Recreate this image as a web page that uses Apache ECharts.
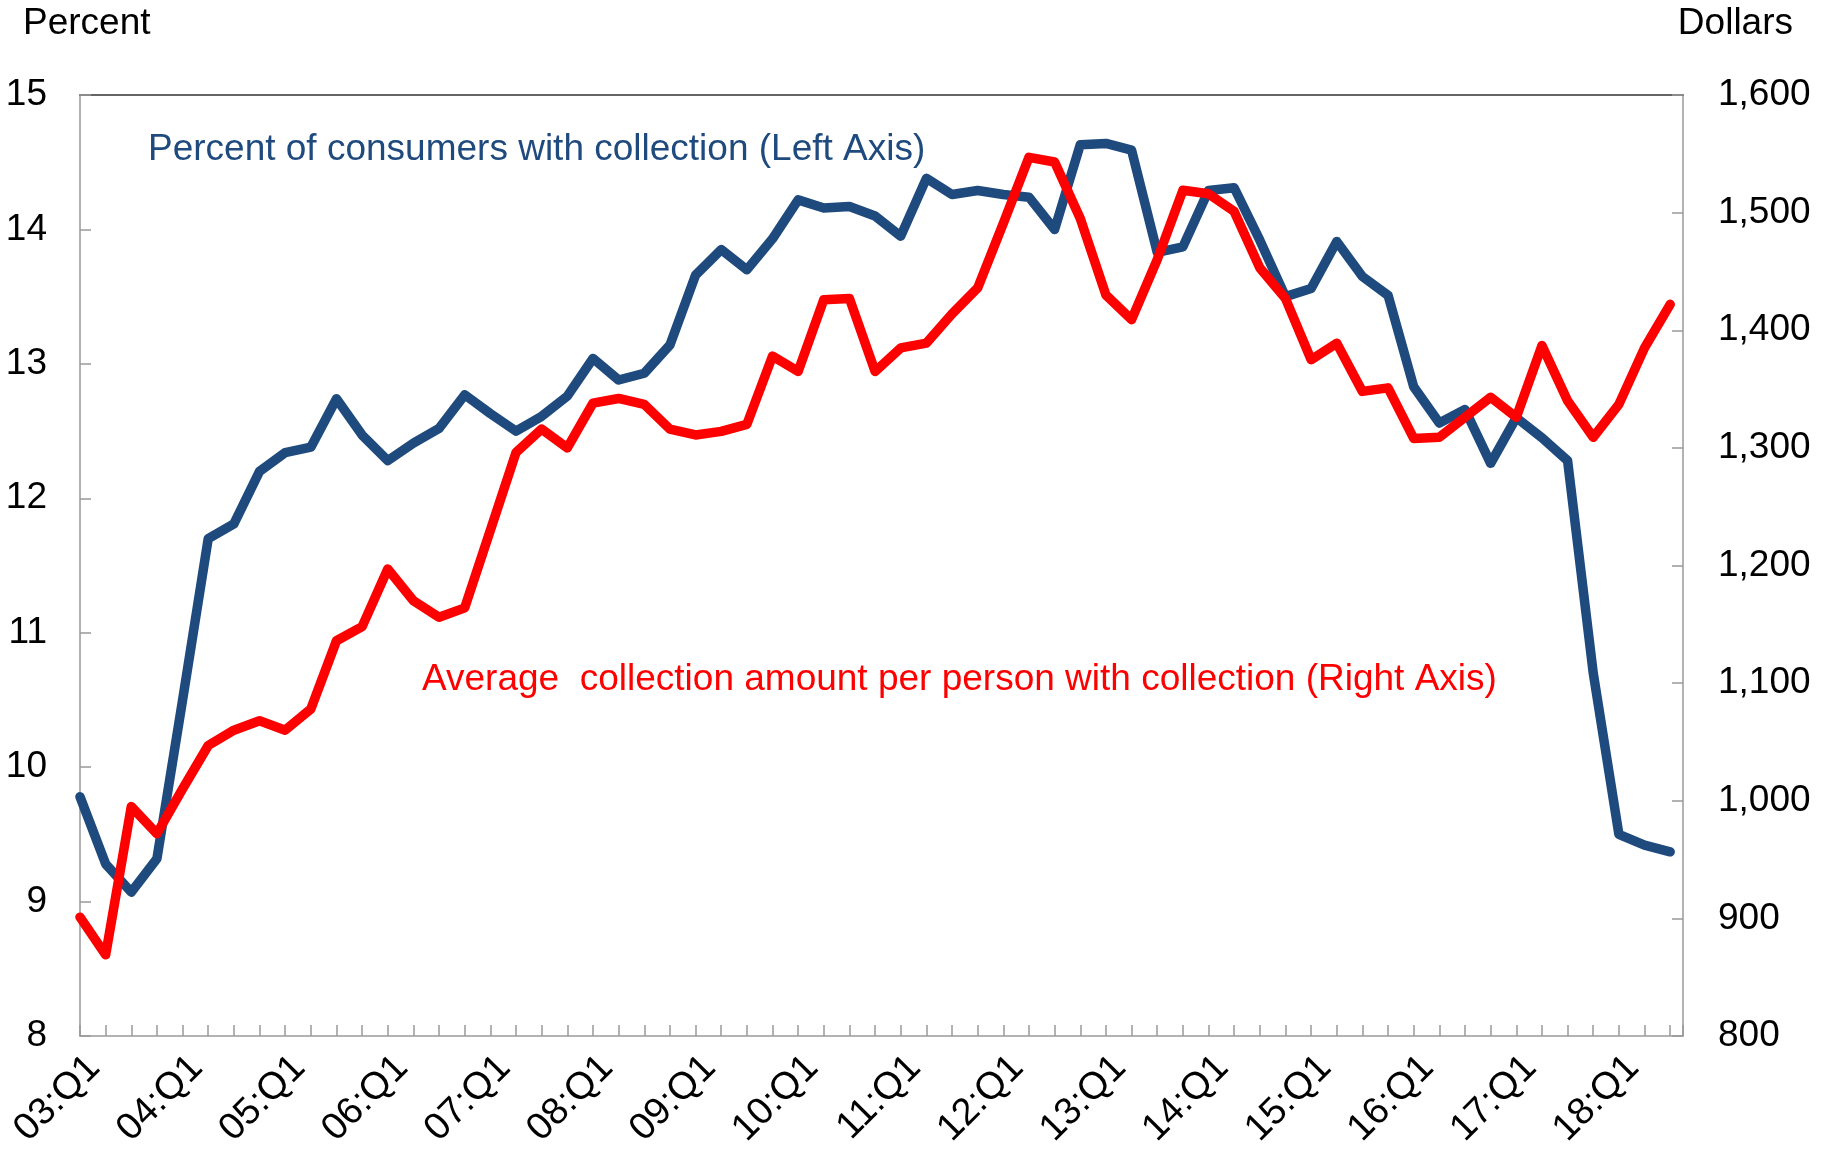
<!DOCTYPE html>
<html>
<head>
<meta charset="utf-8">
<script src="https://cdn.jsdelivr.net/npm/echarts@6/dist/echarts.min.js"></script>
<style>
  html, body { margin: 0; padding: 0; background: #fff; }
  #main { width: 1825px; height: 1158px; }
</style>
</head>
<body>
<div id="main"></div>
<script>
// quarters 03:Q1 .. 18:Q3
var quarters = [
  '03:Q1','03:Q2','03:Q3','03:Q4','04:Q1','04:Q2','04:Q3','04:Q4',
  '05:Q1','05:Q2','05:Q3','05:Q4','06:Q1','06:Q2','06:Q3','06:Q4',
  '07:Q1','07:Q2','07:Q3','07:Q4','08:Q1','08:Q2','08:Q3','08:Q4',
  '09:Q1','09:Q2','09:Q3','09:Q4','10:Q1','10:Q2','10:Q3','10:Q4',
  '11:Q1','11:Q2','11:Q3','11:Q4','12:Q1','12:Q2','12:Q3','12:Q4',
  '13:Q1','13:Q2','13:Q3','13:Q4','14:Q1','14:Q2','14:Q3','14:Q4',
  '15:Q1','15:Q2','15:Q3','15:Q4','16:Q1','16:Q2','16:Q3','16:Q4',
  '17:Q1','17:Q2','17:Q3','17:Q4','18:Q1','18:Q2','18:Q3'
];

// percent of consumers with collection (left axis)
var pctWithCollection = [
  9.78, 9.28, 9.07, 9.32, 10.5, 11.70, 11.81, 12.20,
  12.34, 12.38, 12.74, 12.47, 12.28, 12.41, 12.52, 12.77,
  12.63, 12.50, 12.61, 12.76, 13.04, 12.88, 12.93, 13.14,
  13.66, 13.85, 13.70, 13.93, 14.22, 14.16, 14.17, 14.10,
  13.95, 14.38, 14.26, 14.29, 14.26, 14.24, 14.00, 14.63,
  14.64, 14.59, 13.83, 13.87, 14.29, 14.31, 13.92, 13.50,
  13.56, 13.91, 13.65, 13.51, 12.83, 12.56, 12.66, 12.26,
  12.60, 12.45, 12.28, 10.70, 9.50, 9.42, 9.37
];

// average collection amount, dollars (right axis)
var avgAmount = [
  901, 869, 995, 972, 1010, 1047, 1060, 1068,
  1060, 1078, 1136, 1148, 1197, 1170, 1156, 1164,
  1230, 1296, 1316, 1300, 1338, 1342, 1337, 1316,
  1311, 1314, 1320, 1378, 1365, 1426, 1427, 1365,
  1385, 1389, 1414, 1436, 1491, 1547, 1543, 1495,
  1430, 1409, 1460, 1519, 1516, 1501, 1453, 1427,
  1375, 1389, 1348, 1351, 1308, 1309, 1326, 1343,
  1326, 1387, 1340, 1309, 1337, 1385, 1422
];

var FONT = '"Liberation Sans", Arial, sans-serif';
var BLUE = '#1F4A7E';
var RED = '#FF0000';

function pairs(arr) {
  return arr.map(function (v, i) { return [i, v]; });
}

var myChart = echarts.init(document.getElementById('main'));

var option = {
  backgroundColor: '#fff',
  animation: false,
  textStyle: { fontFamily: FONT },
  grid: { left: 80, right: 142, top: 95, bottom: 122, containLabel: false, outerBoundsMode: 'none' },
  xAxis: [
    {
      type: 'value',
      min: 0,
      max: quarters.length - 0.5,
      interval: 1,
      axisLine: { show: true, onZero: false, lineStyle: { color: '#999', width: 1.5 } },
      axisTick: { show: true, inside: true, length: 11, lineStyle: { color: '#999', width: 1.5 } },
      splitLine: { show: false },
      axisLabel: {
        rotate: 45,
        margin: 40,
        padding: [0, -20, 0, 0],
        fontSize: 38,
        color: '#000',
        fontFamily: FONT,
        formatter: function (v) {
          if (v % 4 === 0 && quarters[v]) return quarters[v];
          return '';
        }
      }
    },
    {
      type: 'value',
      position: 'top',
      min: 0,
      max: quarters.length - 0.5,
      axisLine: { show: true, onZero: false, lineStyle: { color: '#333', width: 1.5 } },
      axisTick: { show: false },
      axisLabel: { show: false },
      splitLine: { show: false }
    }
  ],
  yAxis: [
    {
      type: 'value',
      min: 8,
      max: 15,
      interval: 1,
      position: 'left',
      axisLine: { show: true, onZero: false, lineStyle: { color: '#999', width: 1.5 } },
      axisTick: { show: true, inside: true, length: 11, lineStyle: { color: '#999', width: 1.5 } },
      splitLine: { show: false },
      axisLabel: { margin: 33, fontSize: 37, color: '#000', fontFamily: FONT }
    },
    {
      type: 'value',
      min: 800,
      max: 1600,
      interval: 100,
      position: 'right',
      axisLine: { show: true, onZero: false, lineStyle: { color: '#999', width: 1.5 } },
      axisTick: { show: true, inside: true, length: 11, lineStyle: { color: '#999', width: 1.5 } },
      splitLine: { show: false },
      axisLabel: {
        margin: 35, fontSize: 37, color: '#000', fontFamily: FONT,
        formatter: function (v) { return v.toLocaleString('en-US'); }
      }
    }
  ],
  graphic: [
    { type: 'text', left: 23, top: 5, style: { text: 'Percent', font: '37px ' + FONT, fill: '#000' } },
    { type: 'text', right: 32, top: 5, style: { text: 'Dollars', font: '37px ' + FONT, fill: '#000' } },
    { type: 'text', left: 148, top: 131, style: { text: 'Percent of consumers with collection (Left Axis)', font: '37px ' + FONT, fill: BLUE } },
    { type: 'text', left: 422, top: 661, style: { text: 'Average  collection amount per person with collection (Right Axis)', font: '37px ' + FONT, fill: RED } }
  ],
  series: [
    {
      name: 'Percent of consumers with collection',
      type: 'line',
      xAxisIndex: 0,
      yAxisIndex: 0,
      data: pairs(pctWithCollection),
      showSymbol: false,
      symbol: 'none',
      lineStyle: { color: BLUE, width: 9.5, cap: 'round', join: 'round' },
      z: 2
    },
    {
      name: 'Average collection amount per person with collection',
      type: 'line',
      xAxisIndex: 0,
      yAxisIndex: 1,
      data: pairs(avgAmount),
      showSymbol: false,
      symbol: 'none',
      lineStyle: { color: RED, width: 9.5, cap: 'round', join: 'round' },
      z: 3
    }
  ]
};

myChart.setOption(option);
</script>
</body>
</html>
